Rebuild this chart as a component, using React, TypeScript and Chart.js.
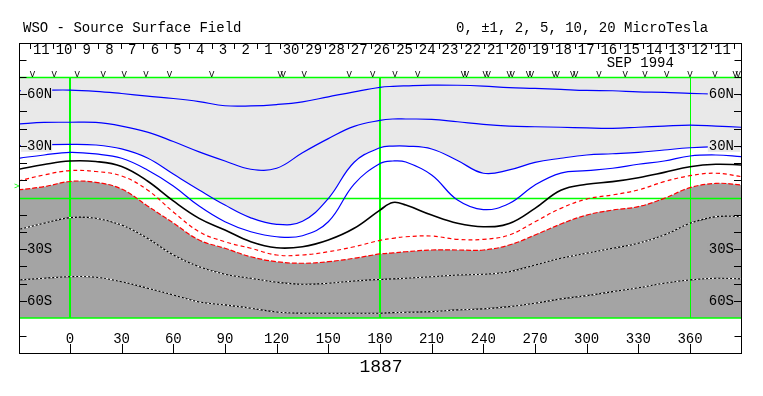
import React, { useEffect, useRef } from 'react';
import { Chart, registerables } from 'chart.js';

Chart.register(...registerables);

// ---------- data ----------
const longitudes = [-30, -15, 0, 15, 30, 45, 60, 75, 90, 105, 120, 135, 150, 165, 180, 187.5, 195, 210, 225, 240, 255, 270, 285, 300, 315, 330, 345, 360, 375, 390];

const blueContour1 = [62.0, 62.3, 62.4, 61.7, 60.4, 58.9, 57.5, 55.7, 53.3, 53.2, 54.0, 55.6, 58.5, 61.4, 64.0, 64.6, 64.9, 65.3, 65.2, 64.7, 63.8, 63.4, 62.8, 62.2, 62.0, 61.4, 61.1, 60.5, 60.1, 59.8];
const blueContour2 = [42.7, 43.6, 43.7, 43.6, 41.5, 38.0, 32.5, 26.5, 21.2, 16.4, 17.0, 26.0, 34.2, 41.3, 44.8, 45.6, 45.6, 45.4, 44.0, 42.5, 41.5, 41.1, 40.8, 40.4, 40.2, 40.8, 41.5, 42.1, 41.5, 40.8];
const blueContour3 = [30.0, 30.6, 30.9, 30.5, 28.2, 22.9, 13.6, 4.4, -4.4, -11.8, -15.6, -13.8, -0.6, 20.5, 28.9, 29.9, 29.9, 28.2, 21.5, 14.1, 16.0, 20.4, 22.8, 24.7, 25.4, 26.2, 27.6, 28.9, 29.6, 29.6];
const blueContour4 = [22.8, 24.7, 26.2, 25.3, 22.8, 16.0, 6.7, -5.0, -14.1, -19.9, -22.8, -22.2, -14.1, 7.8, 19.7, 21.2, 20.6, 13.1, -1.5, -7.0, -3.5, 7.3, 14.2, 15.6, 17.0, 19.3, 21.2, 24.1, 24.7, 23.7];
const neutralLine = [16.4, 19.2, 21.2, 20.9, 18.0, 9.6, -2.0, -12.1, -18.9, -25.7, -29.2, -28.6, -24.7, -17.9, -7.3, -2.9, -4.4, -10.2, -15.0, -17.0, -15.1, -6.3, 4.2, 7.7, 9.2, 11.5, 14.6, 17.9, 19.3, 18.9];
const redContour1 = [9.6, 13.1, 15.6, 15.1, 12.5, 4.4, -8.4, -19.9, -25.7, -29.5, -33.4, -33.4, -31.5, -28.6, -24.9, -23.7, -22.8, -22.4, -24.3, -24.3, -21.8, -14.1, -6.3, -0.9, 1.5, 4.4, 9.2, 12.7, 14.1, 12.1];
const redContour2 = [4.4, 6.3, 9.3, 8.8, 4.9, -4.9, -14.8, -24.7, -29.5, -34.4, -37.3, -38.2, -37.3, -35.3, -32.8, -32.2, -31.5, -30.5, -30.5, -30.5, -27.6, -21.8, -15.4, -10.2, -7.3, -5.3, -0.5, 5.7, 8.2, 7.3];
const darkContour1 = [-18.6, -15.0, -11.7, -12.1, -16.0, -23.7, -33.4, -40.2, -44.6, -46.9, -49.2, -50.4, -49.8, -48.5, -47.6, -47.3, -46.9, -46.0, -45.0, -44.6, -43.1, -39.2, -35.3, -32.4, -29.5, -26.6, -21.8, -15.0, -11.1, -11.1];
const darkContour2 = [-47.9, -46.9, -46.0, -46.3, -48.9, -52.7, -56.6, -60.7, -62.4, -64.3, -66.5, -67.2, -67.2, -67.2, -67.2, -66.9, -66.7, -66.3, -65.3, -64.7, -63.4, -61.4, -58.9, -57.0, -54.7, -52.4, -49.8, -47.9, -46.9, -47.3];

const xTickLabels = [0, 30, 60, 90, 120, 150, 180, 210, 240, 270, 300, 330, 360];
const greenLongitudes = [0, 180, 360];
const latTicks = [-60, -50, -40, -30, -20, -10, 0, 10, 20, 30, 40, 50, 60];
const latLabels = [
  { lat: 60, text: '60N' },
  { lat: 30, text: '30N' },
  { lat: -30, text: '30S' },
  { lat: -60, text: '60S' },
];
const dayLabels = ['11', '10', '9', '8', '7', '6', '5', '4', '3', '2', '1', '30', '29', '28', '27', '26', '25', '24', '23', '22', '21', '20', '19', '18', '17', '16', '15', '14', '13', '12', '11'];
const firstDayBoundary = -23.2;
const dayStep = 13.18;
const monthLabel = 'SEP 1994';
const monthLabelLongitude = 311.6;
const obsLongitudes = [-21.7, -9.1, 4.2, 19.3, 31.5, 44.1, 57.7, 82.3, 122.9, 136.0, 162.2, 175.8, 188.7, 201.9, 229.4, 242.0, 255.9, 267.1, 282.0, 292.8, 307.2, 322.3, 333.9, 346.5, 360.0, 374.5, 387.1];
const obsDouble = [0, 0, 0, 0, 0, 0, 0, 0, 1, 0, 0, 0, 0, 0, 1, 1, 1, 1, 1, 1, 0, 0, 0, 0, 0, 0, 1];
const earthLatitude = 6.5;
const titleText = 'WSO - Source Surface Field';
const legendText = '0, \u00B11, 2, 5, 10, 20 MicroTesla';
const rotationLabel = '1887';

// ---------- styling ----------
const FONT = '"Liberation Mono", "DejaVu Sans Mono", monospace';
const LIGHT = '#e9e9e9';
const DARK = '#a4a4a4';
const GREEN = '#00ff00';

const pts = (vals: number[]) => longitudes.map((x, i) => ({ x, y: vals[i] }));

const decorPlugin = {
  id: 'decor',
  beforeDatasetsDraw(chart: any) {
    const { ctx, chartArea: a, scales } = chart;
    const x = scales.x, y = scales.y;
    ctx.save();
    ctx.strokeStyle = GREEN;
    greenLongitudes.forEach((lon) => {
      const px = Math.round(x.getPixelForValue(lon));
      ctx.lineWidth = lon === 360 ? 1 : 2;
      ctx.beginPath();
      ctx.moveTo(lon === 360 ? px + 0.5 : px, a.top);
      ctx.lineTo(lon === 360 ? px + 0.5 : px, a.bottom);
      ctx.stroke();
    });
    ctx.lineWidth = 1.3;
    [70, 0, -70].forEach((lat) => {
      let py = Math.round(y.getPixelForValue(lat)) + 0.5;
      if (lat === -70) py -= 0.5;
      ctx.beginPath();
      ctx.moveTo(a.left, py);
      ctx.lineTo(a.right, py);
      ctx.stroke();
    });
    ctx.restore();
  },
  afterDatasetsDraw(chart: any) {
    const { ctx, chartArea: a, scales } = chart;
    const y = scales.y;
    ctx.save();
    ctx.font = `14px ${FONT}`;
    ctx.textBaseline = 'middle';
    latLabels.forEach(({ lat, text }) => {
      const py = y.getPixelForValue(lat);
      const w = ctx.measureText(text).width;
      ctx.fillStyle = lat > 0 ? LIGHT : DARK;
      ctx.fillRect(a.left + 1, py - 6, w + 6, 12);
      ctx.fillRect(a.right - w - 8, py - 6, w + 7, 12);
      ctx.fillStyle = '#000';
      ctx.textAlign = 'left';
      ctx.fillText(text, a.left + 7, py + 0.5);
      ctx.textAlign = 'right';
      ctx.fillText(text, a.right - 7, py + 0.5);
    });
    ctx.strokeStyle = '#000';
    ctx.lineWidth = 1;
    latTicks.forEach((lat) => {
      if (lat === 0) return;
      const py = Math.round(y.getPixelForValue(lat)) + 0.5;
      ctx.beginPath();
      ctx.moveTo(a.left, py);
      ctx.lineTo(a.left + 7, py);
      ctx.moveTo(a.right - 7, py);
      ctx.lineTo(a.right, py);
      ctx.stroke();
    });
    // Earth latitude marker
    ctx.fillStyle = GREEN;
    ctx.font = `9px ${FONT}`;
    ctx.textAlign = 'left';
    ctx.fillText('>', a.left - 6, y.getPixelForValue(earthLatitude));
    ctx.restore();
  },
  afterDraw(chart: any) {
    const { ctx, scales } = chart;
    const x = scales.x;
    ctx.save();
    ctx.strokeStyle = '#000';
    ctx.lineWidth = 1;
    // frame
    const L = 19.5, R = 741.5, T = 43.5, B = 353.5;
    ctx.strokeRect(L, T, R - L, B - T);
    // small edge ticks
    [60.5, 77.5, 336.5].forEach((py) => {
      ctx.beginPath();
      ctx.moveTo(L, py);
      ctx.lineTo(L + 7, py);
      ctx.moveTo(R - 7, py);
      ctx.lineTo(R, py);
      ctx.stroke();
    });
    ctx.fillStyle = '#000';
    ctx.font = `14px ${FONT}`;
    ctx.textBaseline = 'alphabetic';
    ctx.textAlign = 'left';
    ctx.fillText(titleText, 23, 32);
    ctx.fillText(legendText, 456, 32);

    // day labels
    for (let k = 0; k <= dayLabels.length; k++) {
      const px = Math.round(x.getPixelForValue(firstDayBoundary + k * dayStep)) + 0.5;
      ctx.beginPath();
      ctx.moveTo(px, 44);
      ctx.lineTo(px, 49);
      ctx.stroke();
    }
    ctx.textAlign = 'center';
    dayLabels.forEach((d, k) => {
      const px = x.getPixelForValue(firstDayBoundary + (k + 0.5) * dayStep);
      ctx.fillText(d, px, 54);
    });
    ctx.textAlign = 'left';
    ctx.fillText(monthLabel, x.getPixelForValue(monthLabelLongitude), 67);

    // observation markers
    ctx.font = `9px ${FONT}`;
    ctx.textAlign = 'center';
    obsLongitudes.forEach((lon, i) => {
      const px = x.getPixelForValue(lon);
      if (obsDouble[i]) {
        ctx.fillText('V', px - 1.5, 76.5);
        ctx.fillText('V', px + 1.5, 76.5);
      } else {
        ctx.fillText('V', px, 76.5);
      }
    });

    // x-axis labels and ticks
    ctx.font = `14px ${FONT}`;
    xTickLabels.forEach((lon) => {
      const px = x.getPixelForValue(lon);
      ctx.fillText(String(lon), px, 343);
      const tx = Math.round(px) + 0.5;
      ctx.beginPath();
      ctx.moveTo(tx, 344);
      ctx.lineTo(tx, 353);
      ctx.stroke();
    });
    ctx.font = `18px ${FONT}`;
    ctx.fillText(rotationLabel, x.getPixelForValue(180) + 1, 372);
    ctx.restore();
  },
};

export default function App() {
  const ref = useRef<HTMLCanvasElement>(null);
  useEffect(() => {
    const line = (vals: number[], color: string, width: number, extra: any = {}) => ({
      data: pts(vals),
      borderColor: color,
      borderWidth: width,
      pointRadius: 0,
      fill: false,
      tension: 0.4,
      ...extra,
    });
    const chart = new Chart(ref.current as HTMLCanvasElement, {
      type: 'line',
      data: {
        datasets: [
          line(blueContour3, '#0000ff', 1.2, { fill: 'end', backgroundColor: LIGHT, order: 5 }),
          line(redContour2, '#ff0000', 1.2, { fill: 'start', backgroundColor: DARK, borderDash: [5, 2], order: 5 }),
          line(blueContour1, '#0000ff', 1.2, { order: 4 }),
          line(blueContour2, '#0000ff', 1.2, { order: 4 }),
          line(blueContour4, '#0000ff', 1.2, { order: 4 }),
          line(neutralLine, '#000000', 1.6, { order: 4 }),
          line(redContour1, '#ff0000', 1.2, { borderDash: [4, 3], order: 4 }),
          line(darkContour1, '#000000', 1.1, { order: 3 }),
          line(darkContour2, '#000000', 1.1, { order: 3 }),
          line(darkContour1, '#ffffff', 1.1, { borderDash: [2, 2], order: 1 }),
          line(darkContour2, '#ffffff', 1.1, { borderDash: [2, 2], order: 1 }),
        ] as any,
      },
      options: {
        responsive: false,
        animation: false,
        layout: { padding: { left: 20, right: 22, top: 77, bottom: 78 } },
        scales: {
          x: { type: 'linear', min: -29, max: 389.6, display: false },
          y: { type: 'linear', min: -70, max: 70, display: false },
        },
        plugins: {
          legend: { display: false },
          tooltip: { enabled: false },
          filler: { propagate: false, drawTime: 'beforeDatasetsDraw' } as any,
        },
      } as any,
      plugins: [decorPlugin],
    });
    return () => chart.destroy();
  }, []);
  return (
    <div style={{ position: 'absolute', left: 0, top: 0, width: 763, height: 396, background: '#fff' }}>
      <canvas ref={ref} width={763} height={396} style={{ display: 'block', width: 763, height: 396 }} />
    </div>
  );
}
